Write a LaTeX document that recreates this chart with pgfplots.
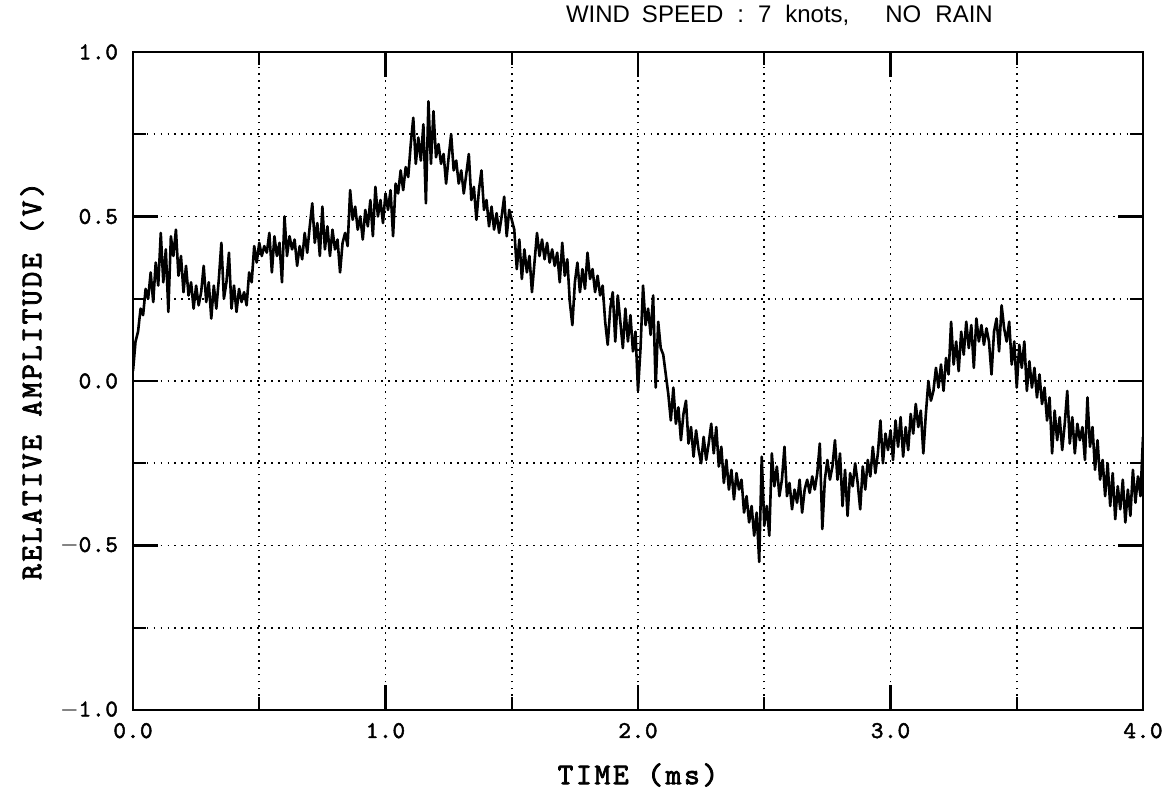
\documentclass[border=0pt]{standalone}
\usepackage{fontspec}
\setmainfont{Liberation Sans}
\newfontfamily\labfont{lmmono10-regular.otf}[FakeBold=2.5,LetterSpace=9]
\newfontfamily\tkfont{lmmono10-regular.otf}[FakeBold=2,LetterSpace=3]
\usepackage{pgfplots}
\pgfplotsset{compat=1.18}
\newcommand\lab{\labfont\fontsize{15}{18}\selectfont}
\newcommand\tkl{\tkfont\fontsize{12}{14}\selectfont}
\begin{document}
\begin{tikzpicture}
\path[use as bounding box] (-66.5pt,-46pt) rectangle (519pt,355pt);
\begin{axis}[
  at={(0pt,0pt)}, anchor=south west,
  width=505pt, height=329pt, scale only axis,
  xmin=0, xmax=4, ymin=-1, ymax=1,
  xtick={0,1,2,3,4}, xticklabels={0.0,1.0,2.0,3.0,4.0},
  minor xtick={0.5,1.5,2.5,3.5},
  ytick={-1,-0.5,0,0.5,1}, yticklabels={$-$1.0,$-$0.5,0.0,0.5,1.0},
  minor ytick={-0.75,-0.25,0.25,0.75},
  grid=both,
  major grid style={black, line width=0.85pt, dash pattern=on 0.85pt off 2.6pt},
  minor grid style={black, line width=0.85pt, dash pattern=on 0.85pt off 2.6pt},
  tick align=inside, tick pos=both,
  major tick length=12.5pt, minor tick length=6.5pt,
  every tick/.style={black, line width=1.1pt},
  axis line style={line width=1.2pt},
  ticklabel style={font=\tkl},
  yticklabel style={xshift=-4pt},
  xticklabel style={yshift=-3pt},
  xlabel={TIME (ms)}, ylabel={RELATIVE AMPLITUDE (V)},
  label style={font=\lab},
  xlabel style={at={(axis description cs:0.5,-0.0988)}, anchor=center},
  ylabel style={at={(axis description cs:-0.1,0.5)}, anchor=center},
  title={WIND\hspace{6pt}SPEED\hspace{7pt}:\hspace{7pt}7\hspace{7pt}knots,\hspace{18pt}NO\hspace{7pt}RAIN},
  title style={font=\fontsize{12}{14}\selectfont, at={(axis description cs:0.64,1.056)}, anchor=center, yshift=-6pt},
]
\addplot[black, line width=1.3pt, line join=round] coordinates {
(0.00,0.03)(0.01,0.12)(0.02,0.15)(0.03,0.22)(0.04,0.20)(0.05,0.28)(0.06,0.25)(0.07,0.33)(0.08,0.24)(0.09,0.36)
(0.10,0.29)(0.11,0.45)(0.12,0.30)(0.13,0.40)(0.14,0.21)(0.15,0.44)(0.16,0.38)(0.17,0.46)(0.18,0.32)(0.19,0.38)
(0.20,0.27)(0.21,0.35)(0.22,0.26)(0.23,0.30)(0.24,0.22)(0.25,0.29)(0.26,0.23)(0.27,0.27)(0.28,0.35)(0.29,0.24)
(0.30,0.30)(0.31,0.19)(0.32,0.29)(0.33,0.22)(0.34,0.31)(0.35,0.42)(0.36,0.25)(0.37,0.30)(0.38,0.39)(0.39,0.22)
(0.40,0.29)(0.41,0.21)(0.42,0.28)(0.43,0.24)(0.44,0.27)(0.45,0.23)(0.46,0.33)(0.47,0.30)(0.48,0.41)(0.49,0.36)
(0.50,0.42)(0.51,0.38)(0.52,0.41)(0.53,0.39)(0.54,0.45)(0.55,0.33)(0.56,0.44)(0.57,0.38)(0.58,0.42)(0.59,0.30)
(0.60,0.50)(0.61,0.38)(0.62,0.44)(0.63,0.40)(0.64,0.43)(0.65,0.35)(0.66,0.41)(0.67,0.37)(0.68,0.45)(0.69,0.39)
(0.70,0.47)(0.71,0.54)(0.72,0.42)(0.73,0.48)(0.74,0.38)(0.75,0.53)(0.76,0.40)(0.77,0.47)(0.78,0.38)(0.79,0.46)
(0.80,0.40)(0.81,0.43)(0.82,0.33)(0.83,0.42)(0.84,0.45)(0.85,0.41)(0.86,0.58)(0.87,0.49)(0.88,0.53)(0.89,0.46)
(0.90,0.50)(0.91,0.43)(0.92,0.52)(0.93,0.47)(0.94,0.55)(0.95,0.44)(0.96,0.59)(0.97,0.50)(0.98,0.55)(0.99,0.48)
(1.00,0.57)(1.01,0.52)(1.02,0.58)(1.03,0.44)(1.04,0.60)(1.05,0.57)(1.06,0.64)(1.07,0.58)(1.08,0.65)(1.09,0.62)
(1.10,0.72)(1.11,0.80)(1.12,0.66)(1.13,0.74)(1.14,0.67)(1.15,0.78)(1.16,0.54)(1.17,0.85)(1.18,0.66)(1.19,0.82)
(1.20,0.68)(1.21,0.72)(1.22,0.66)(1.23,0.69)(1.24,0.60)(1.25,0.68)(1.26,0.75)(1.27,0.64)(1.28,0.67)(1.29,0.60)
(1.30,0.64)(1.31,0.57)(1.32,0.63)(1.33,0.69)(1.34,0.55)(1.35,0.59)(1.36,0.49)(1.37,0.58)(1.38,0.64)(1.39,0.52)
(1.40,0.55)(1.41,0.47)(1.42,0.53)(1.43,0.46)(1.44,0.51)(1.45,0.45)(1.46,0.50)(1.47,0.56)(1.48,0.44)(1.49,0.52)
(1.50,0.49)(1.51,0.46)(1.52,0.34)(1.53,0.43)(1.54,0.31)(1.55,0.40)(1.56,0.33)(1.57,0.38)(1.58,0.27)(1.59,0.36)
(1.60,0.45)(1.61,0.38)(1.62,0.43)(1.63,0.37)(1.64,0.42)(1.65,0.36)(1.66,0.40)(1.67,0.35)(1.68,0.39)(1.69,0.30)
(1.70,0.42)(1.71,0.32)(1.72,0.37)(1.73,0.24)(1.74,0.17)(1.75,0.30)(1.76,0.36)(1.77,0.27)(1.78,0.34)(1.79,0.28)
(1.80,0.39)(1.81,0.31)(1.82,0.34)(1.83,0.27)(1.84,0.32)(1.85,0.26)(1.86,0.29)(1.87,0.18)(1.88,0.11)(1.89,0.22)
(1.90,0.27)(1.91,0.12)(1.92,0.26)(1.93,0.18)(1.94,0.10)(1.95,0.22)(1.96,0.12)(1.97,0.20)(1.98,0.09)(1.99,0.15)
(2.00,-0.03)(2.01,0.10)(2.02,0.29)(2.03,0.17)(2.04,0.22)(2.05,0.14)(2.06,0.26)(2.07,-0.02)(2.08,0.18)(2.09,0.10)
(2.10,0.08)(2.11,0.02)(2.12,-0.04)(2.13,-0.12)(2.14,-0.02)(2.15,-0.13)(2.16,-0.08)(2.17,-0.18)(2.18,-0.10)(2.19,-0.06)
(2.20,-0.19)(2.21,-0.14)(2.22,-0.23)(2.23,-0.15)(2.24,-0.21)(2.25,-0.25)(2.26,-0.17)(2.27,-0.24)(2.28,-0.19)(2.29,-0.13)
(2.30,-0.22)(2.31,-0.14)(2.32,-0.26)(2.33,-0.20)(2.34,-0.31)(2.35,-0.24)(2.36,-0.33)(2.37,-0.27)(2.38,-0.36)(2.39,-0.28)
(2.40,-0.33)(2.41,-0.30)(2.42,-0.40)(2.43,-0.35)(2.44,-0.43)(2.45,-0.38)(2.46,-0.47)(2.47,-0.40)(2.48,-0.55)(2.49,-0.23)
(2.50,-0.44)(2.51,-0.38)(2.52,-0.47)(2.53,-0.22)(2.54,-0.32)(2.55,-0.26)(2.56,-0.35)(2.57,-0.30)(2.58,-0.20)(2.59,-0.35)
(2.60,-0.31)(2.61,-0.39)(2.62,-0.33)(2.63,-0.37)(2.64,-0.30)(2.65,-0.40)(2.66,-0.33)(2.67,-0.30)(2.68,-0.34)(2.69,-0.29)
(2.70,-0.33)(2.71,-0.28)(2.72,-0.19)(2.73,-0.45)(2.74,-0.30)(2.75,-0.24)(2.76,-0.30)(2.77,-0.26)(2.78,-0.18)(2.79,-0.30)
(2.80,-0.22)(2.81,-0.38)(2.82,-0.27)(2.83,-0.41)(2.84,-0.28)(2.85,-0.32)(2.86,-0.25)(2.87,-0.31)(2.88,-0.39)(2.89,-0.26)
(2.90,-0.33)(2.91,-0.24)(2.92,-0.29)(2.93,-0.20)(2.94,-0.28)(2.95,-0.22)(2.96,-0.12)(2.97,-0.25)(2.98,-0.16)(2.99,-0.21)
(3.00,-0.15)(3.01,-0.24)(3.02,-0.12)(3.03,-0.20)(3.04,-0.11)(3.05,-0.23)(3.06,-0.14)(3.07,-0.21)(3.08,-0.10)(3.09,-0.16)
(3.10,-0.07)(3.11,-0.14)(3.12,-0.09)(3.13,-0.22)(3.14,-0.10)(3.15,0.00)(3.16,-0.06)(3.17,-0.03)(3.18,0.04)(3.19,-0.02)
(3.20,0.05)(3.21,-0.03)(3.22,0.07)(3.23,0.02)(3.24,0.18)(3.25,0.05)(3.26,0.12)(3.27,0.03)(3.28,0.15)(3.29,0.08)
(3.30,0.18)(3.31,0.10)(3.32,0.17)(3.33,0.04)(3.34,0.19)(3.35,0.12)(3.36,0.17)(3.37,0.11)(3.38,0.16)(3.39,0.12)
(3.40,0.02)(3.41,0.15)(3.42,0.19)(3.43,0.09)(3.44,0.23)(3.45,0.16)(3.46,0.12)(3.47,0.18)(3.48,0.05)(3.49,0.12)
(3.50,-0.02)(3.51,0.11)(3.52,0.04)(3.53,0.12)(3.54,-0.03)(3.55,0.06)(3.56,-0.02)(3.57,0.04)(3.58,-0.05)(3.59,0.02)
(3.60,-0.07)(3.61,-0.02)(3.62,-0.12)(3.63,-0.05)(3.64,-0.22)(3.65,-0.09)(3.66,-0.18)(3.67,-0.11)(3.68,-0.21)(3.69,-0.13)
(3.70,-0.03)(3.71,-0.19)(3.72,-0.11)(3.73,-0.22)(3.74,-0.13)(3.75,-0.18)(3.76,-0.14)(3.77,-0.24)(3.78,-0.05)(3.79,-0.20)
(3.80,-0.14)(3.81,-0.27)(3.82,-0.18)(3.83,-0.30)(3.84,-0.24)(3.85,-0.35)(3.86,-0.25)(3.87,-0.38)(3.88,-0.28)(3.89,-0.42)
(3.90,-0.32)(3.91,-0.39)(3.92,-0.30)(3.93,-0.43)(3.94,-0.33)(3.95,-0.41)(3.96,-0.27)(3.97,-0.37)(3.98,-0.29)(3.99,-0.35)
(4.00,-0.17)
};
\end{axis}
\end{tikzpicture}
\end{document}
